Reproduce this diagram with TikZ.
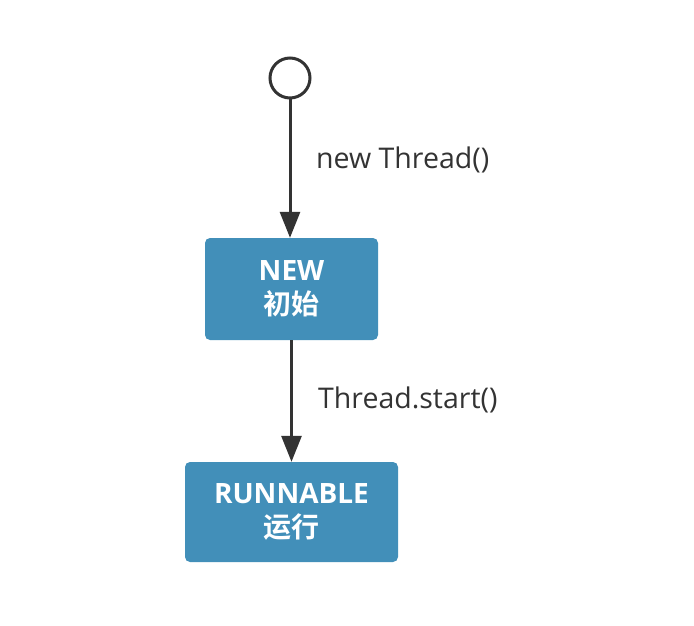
\documentclass[tikz,border=0pt]{standalone}
\usepackage{fontspec}
\setmainfont{Open Sans}
\newfontfamily\cjk{Noto Sans CJK SC}[BoldFont={* Bold}]
\usetikzlibrary{arrows.meta}
\definecolor{boxblue}{HTML}{428FB9}
\definecolor{linegray}{HTML}{333333}
\begin{document}
\begin{tikzpicture}[x=1pt,y=-1pt,
  statebox/.style={draw=none, fill=boxblue, rounded corners=5pt, text=white, align=center, font=\fontsize{28}{34}\selectfont\bfseries, inner sep=0pt},
  conn/.style={draw=linegray, line width=3pt, -{Triangle[length=26pt,width=20pt]}},
  lbl/.style={text=linegray, font=\fontsize{28.5}{32}\selectfont, anchor=west, inner sep=0pt}]
\useasboundingbox (0,0) rectangle (694,626);
\node[circle, draw=linegray, line width=3pt, minimum size=40pt, inner sep=0pt, fill=white] (start) at (290,78) {};
\node[statebox, minimum width=173pt, minimum height=102pt] (new) at (291.5,289) {NEW\\{\cjk 初始}};
\node[statebox, minimum width=213pt, minimum height=100pt] (run) at (291.5,512) {RUNNABLE\\{\cjk 运行}};
\draw[conn] (start) -- (new.north -| start);
\draw[conn] (new) -- (run);
\node[lbl] (l1) at (316,160) {new Thread()};
\node[lbl] (l2) at (318,400) {Thread.start()};
\end{tikzpicture}
\end{document}
